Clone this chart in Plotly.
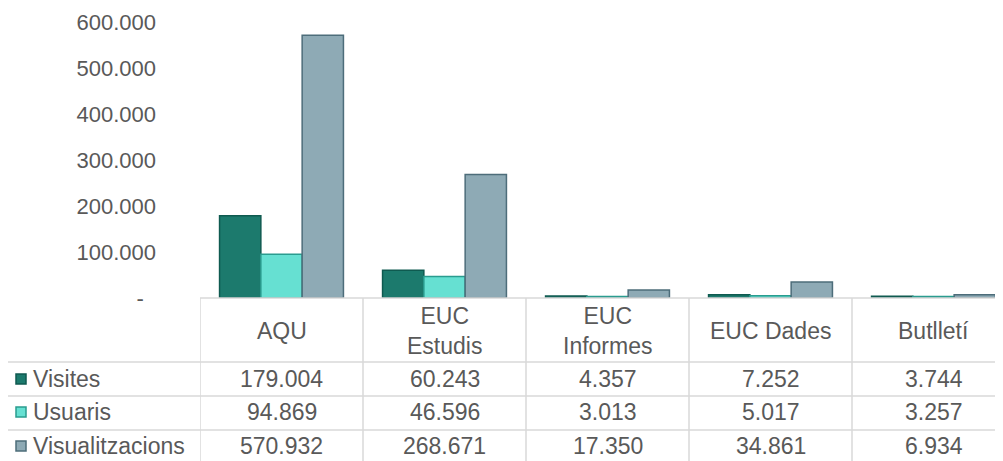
import plotly.graph_objects as go

categories = ["AQU", "EUC<br>Estudis", "EUC<br>Informes", "EUC Dades", "Butlletí"]
series_names = ["Visites", "Usuaris", "Visualitzacions"]
visites = [179004, 60243, 4357, 7252, 3744]
usuaris = [94869, 46596, 3013, 5017, 3257]
visualitzacions = [570932, 268671, 17350, 34861, 6934]
y_ticks = [0, 100000, 200000, 300000, 400000, 500000, 600000]

fills = ["#1c7a6d", "#66e0d2", "#8eaab5"]
edges = ["#0f5a50", "#2a9c8f", "#4d6d7a"]
grid = "#d9d9d9"
txt = "#595959"
font = "Liberation Sans, Arial, sans-serif"


def fmt(v):
    return f"{v:,}".replace(",", ".")


# page body has an 8px margin, so work in screen pixels and shift
OFF = 8
W, H = 1003 - OFF, 461 - OFF
L, T, B = 200, 22, 298  # plot area, screen pixels


def py(p):
    # screen pixel row -> paper y
    return (B - p) / (B - T)


def px(p):
    return (p - L) / (1003 - L)


fig = go.Figure()
xs = list(range(len(categories)))
for name, vals, fc, ec in zip(series_names, [visites, usuaris, visualitzacions], fills, edges):
    fig.add_trace(go.Bar(x=xs, y=vals, name=name, marker_color=fc,
                         marker_line=dict(color=ec, width=1.5), showlegend=False))

shapes = []
ann = []
line = dict(color=grid, width=1.5)

# table horizontal lines
shapes.append(dict(type="line", xref="paper", yref="paper", x0=0, x1=1.02, y0=0, y1=0, line=line))
for p in [362, 396, 430]:
    shapes.append(dict(type="line", xref="paper", yref="paper", x0=px(3), x1=1.02,
                       y0=py(p), y1=py(p), line=line))
# vertical lines at category boundaries
for i in range(len(categories)):
    shapes.append(dict(type="line", xref="x", yref="paper", x0=i - 0.5, x1=i - 0.5,
                       y0=0, y1=py(470), line=line))
shapes.append(dict(type="line", xref="paper", yref="paper", x0=px(3), x1=px(3),
                   y0=py(362), y1=py(470), line=line))

# header
for i, c in enumerate(categories):
    ann.append(dict(x=i, y=py(331), xref="x", yref="paper", text=c, showarrow=False,
                    font=dict(size=23, color=txt, family=font), yanchor="middle"))

rows_y = [379, 412, 446]
for name, vals, fc, ec, ry in zip(series_names, [visites, usuaris, visualitzacions], fills, edges, rows_y):
    shapes.append(dict(type="rect", xref="paper", yref="paper", x0=px(16), x1=px(26),
                       y0=py(ry - 5), y1=py(ry + 5), fillcolor=fc, line=dict(color=ec, width=1.5)))
    ann.append(dict(x=px(31), y=py(ry), xref="paper", yref="paper", text=name, showarrow=False,
                    xanchor="left", yanchor="middle", font=dict(size=23, color=txt, family=font)))
    for i, v in enumerate(vals):
        ann.append(dict(x=i, y=py(ry), xref="x", yref="paper", text=fmt(v), showarrow=False,
                        yanchor="middle", font=dict(size=23, color=txt, family=font)))

fig.update_layout(
    width=W, height=H,
    margin=dict(l=L - OFF, r=0, t=T - OFF, b=H - (B - OFF), autoexpand=False),
    plot_bgcolor="white", paper_bgcolor="white",
    barmode="group", bargap=0.24, bargroupgap=0,
    shapes=shapes, annotations=ann,
    font=dict(family=font, color=txt),
)
fig.update_xaxes(range=[-0.5, -0.5 + (1003 - L) / 163], showticklabels=False, showgrid=False,
                 zeroline=False, showline=False)
fig.update_yaxes(range=[0, 600000], tickvals=y_ticks,
                 ticktext=["-\u00a0\u00a0"] + [fmt(v) for v in y_ticks[1:]],
                 tickfont=dict(size=22, color=txt, family=font), ticklabelstandoff=43,
                 showgrid=False, zeroline=False, showline=False)

fig.write_html("out.html")
